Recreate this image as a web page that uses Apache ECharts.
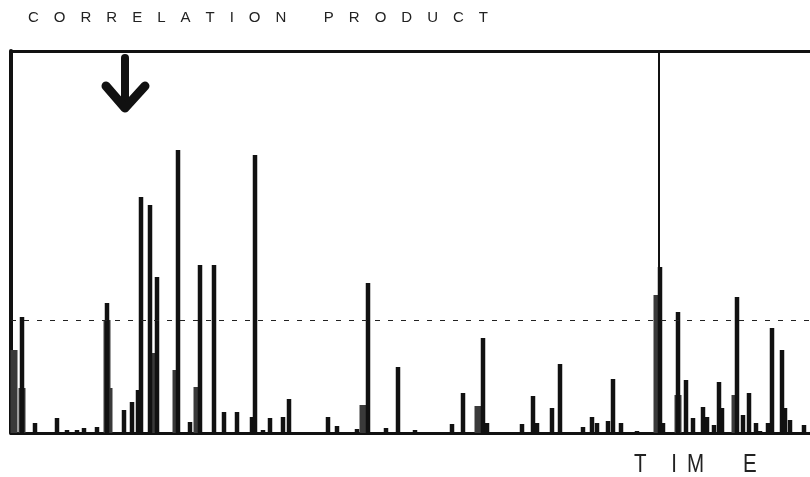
<!DOCTYPE html>
<html><head><meta charset="utf-8">
<script src="https://cdn.jsdelivr.net/npm/echarts@6/dist/echarts.min.js"></script>
<style>html,body{margin:0;padding:0;background:#fff}#c{width:810px;height:477px}</style>
</head><body><div id="c"></div>
<script>
// Time positions and heights of the narrow correlation spikes
const spikeTimes   = [22,35,57,67,77,84,97,107,124,132,138,141,150,157,178,190,200,214,224,237,252,255,263,270,283,289,328,337,357,368,386,398,415,452,463,483,487,522,533,537,552,560,583,592,597,608,613,621,637,660,663,678,686,693,703,707,714,719,722,737,743,749,756,760,768,772,782,785,790,804];
const spikeHeights = [116,10,15,3,3,5,6,130,23,31,43,236,228,156,283,11,168,168,21,21,16,278,3,15,16,34,16,7,4,150,5,66,3,9,40,95,10,9,37,10,25,69,6,16,10,12,54,10,2,166,10,121,53,15,26,16,8,51,25,136,18,40,10,2,10,105,83,25,13,8];
// Broader lower blocks under the spikes
const blockTimes   = [14,22,107,109,153,176,197,363,478,657,678,735];
const blockHeights = [83,45,113,45,80,63,46,28,27,138,38,38];
// The single peak reaching full scale
const topTimes   = [659];
const topHeights = [381];
const threshold = 113;

const chart = echarts.init(document.getElementById('c'));
function rectSeries(times, heights, w, color, z) {
  return {
    type: 'custom', z: z, silent: true,
    data: times.map((t, i) => [t, heights[i]]),
    renderItem: function (params, api) {
      const top = api.coord([api.value(0), api.value(1)]);
      const base = api.coord([api.value(0), 0]);
      return { type: 'rect', shape: { x: top[0] - w / 2, y: top[1], width: w, height: base[1] - top[1] },
               style: { fill: color } };
    }
  };
}
const s1 = rectSeries(blockTimes, blockHeights, 7, '#3a3a3a', 2);
const s2 = rectSeries(spikeTimes, spikeHeights, 4.5, '#111', 3);
const s3 = rectSeries(topTimes, topHeights, 2, '#111', 3);
s2.markLine = { silent: true, symbol: 'none', label: { show: false },
  lineStyle: { color: '#222', width: 1.2, type: [5, 8] }, data: [{ yAxis: threshold }] };

chart.setOption({
  animation: false,
  grid: { left: 11, right: 0, top: 51, bottom: 44 },
  xAxis: [
    { type: 'value', min: 11, max: 810, position: 'bottom',
      axisLine: { show: true, onZero: false, lineStyle: { color: '#111', width: 3 } },
      axisTick: { show: false }, axisLabel: { show: false }, splitLine: { show: false } },
    { type: 'value', min: 11, max: 810, position: 'top',
      axisLine: { show: true, onZero: false, lineStyle: { color: '#111', width: 3 } },
      axisTick: { show: false }, axisLabel: { show: false }, splitLine: { show: false } }
  ],
  yAxis: { type: 'value', min: 0, max: 382,
    axisLine: { show: true, onZero: false, lineStyle: { color: '#111', width: 4 } },
    axisTick: { show: false }, axisLabel: { show: false }, splitLine: { show: false } },
  series: [s1, s2, s3]
});

const ax = chart.convertToPixel({ xAxisIndex: 0 }, 125);
const E = '\u2003', H = '\u200A';
chart.setOption({
  graphic: [
    { type: 'text', left: 28, top: 10, style: {
      text: ['C','O','R','R','E','L','A','T','I','O','N'].join(E) + E + E + '\u2002' +
            ['P','R','O','D','U','C','T'].join(E),
      font: '15px "Liberation Sans", Arial, sans-serif', fill: '#222' } },
    { type: 'text', x: 634, y: 453, scaleX: 0.82, style: {
      text: 'T' + E + '\u2009I\u2002M' + E + '\u2002\u2009\u2009E',
      font: '25px "Liberation Sans", Arial, sans-serif', fill: '#222' } },
    { type: 'polyline', shape: { points: [[ax, 58], [ax, 104]] },
      style: { stroke: '#111', lineWidth: 8, lineCap: 'round', fill: null } },
    { type: 'polyline', shape: { points: [[ax - 19, 86], [ax, 108], [ax + 20, 86]] },
      style: { stroke: '#111', lineWidth: 9, lineCap: 'round', lineJoin: 'round', fill: null } }
  ]
});
</script></body></html>
